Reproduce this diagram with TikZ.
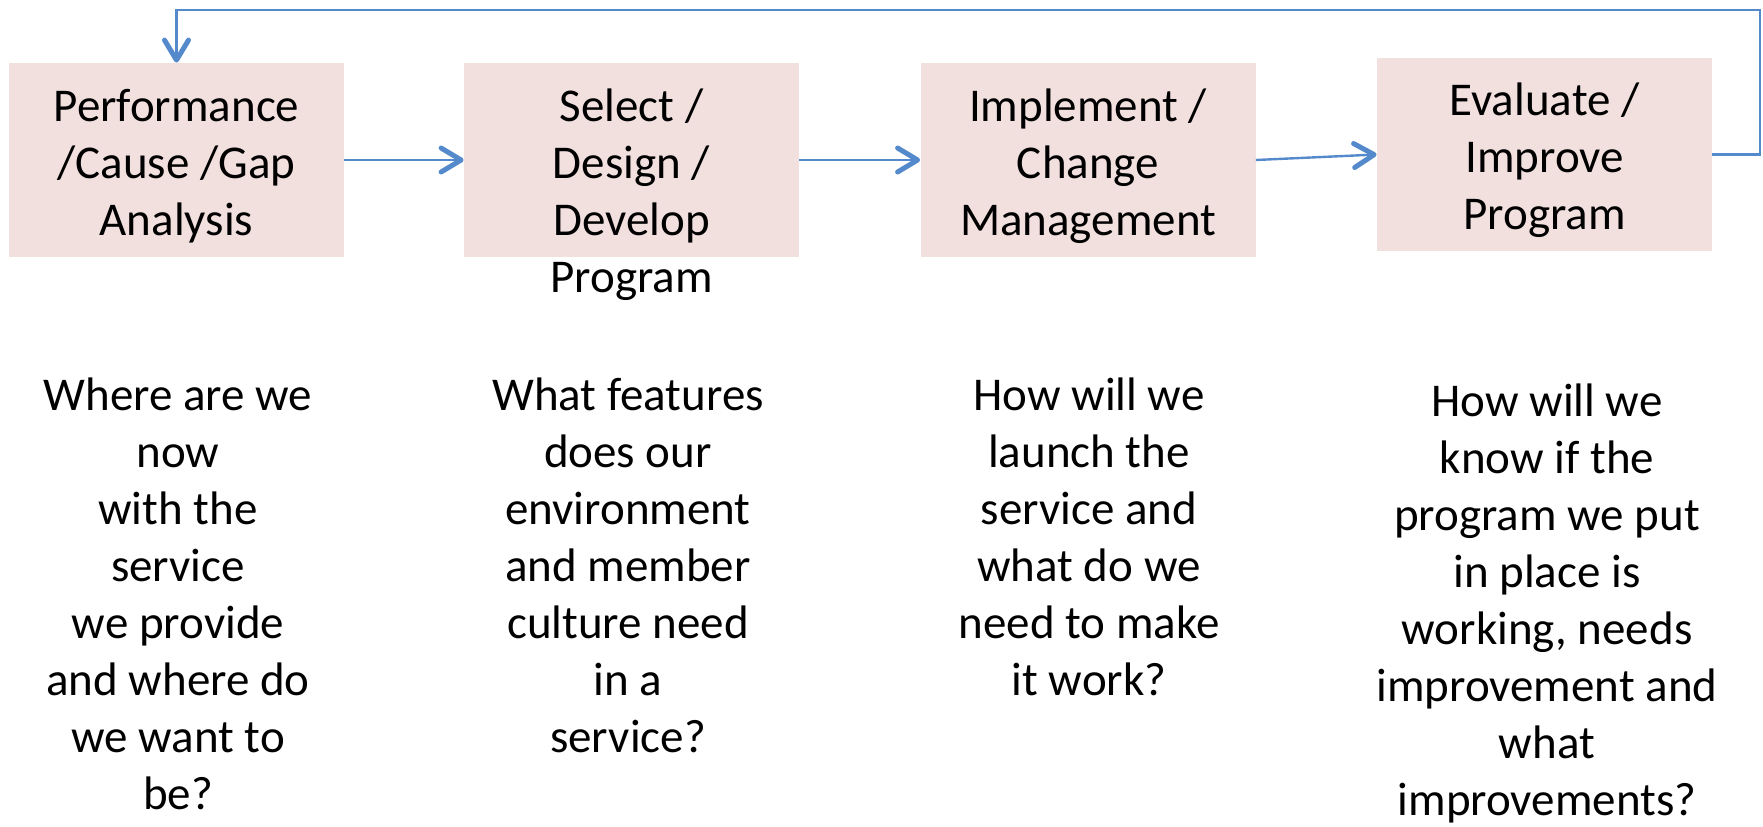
\documentclass[tikz,border=0pt]{standalone}
\usepackage{fontspec}
\setmainfont{Carlito}
\usepackage{xcolor}
\usepackage{tikz}
\usetikzlibrary{arrows.meta,positioning}

\definecolor{stagepink}{HTML}{F2E0DF}
\definecolor{flowblue}{RGB}{84,138,203}

\tikzset{
  stage/.style={fill=stagepink, inner sep=0pt, minimum width=167.5pt, minimum height=97pt},
  stagetext/.style={align=center, inner sep=0pt, font=\fontsize{23.5pt}{28.5pt}\selectfont},
  question/.style={align=center, inner sep=0pt, font=\fontsize{23.5pt}{28.5pt}\selectfont},
  flow/.style={draw=flowblue, line width=1.2pt,
    -{Straight Barb[length=10pt, width=12pt, line width=2.5pt, round]}}
}

\begin{document}
\begin{tikzpicture}[x=0.5pt, y=-0.5pt]
    \useasboundingbox (0,0) rectangle (1763,826);
    % the four stages
    \node[stage] (perf) at (176.5,160) {};
    \node[stage] (select) at (631.5,160) {};
    \node[stage] (impl) at (1088,160) {};
    \node[stage, minimum height=96.5pt] (eval) at (1544.5,154.5) {};
    % stage names (anchored at the baseline of the last line)
    \node[stagetext, anchor=base] (perfT) at (176.5,235) {Performance\\/Cause /Gap\\Analysis};
    \node[stagetext, anchor=base] (selectT) at (631.5,292) {Select /\\Design /\\Develop\\Program};
    \node[stagetext, anchor=base] (implT) at (1088,235) {Implement /\\Change\\Management};
    \node[stagetext, anchor=base] (evalT) at (1544.5,229) {Evaluate /\\Improve\\Program};
    % questions under each stage
    \node[question, anchor=base] (perfQ) at (178,809) {Where are we\\now\\with the\\service\\we provide\\and where do\\we want to\\be?};
    \node[question, anchor=base] (selectQ) at (628,752) {What features\\does our\\environment\\and member\\culture need\\in a\\service?};
    \node[question, anchor=base] (implQ) at (1089,695) {How will we\\launch the\\service and\\what do we\\need to make\\it work?};
    \node[question, anchor=base] (evalQ) at (1547,815) {How will we\\know if the\\program we put\\in place is\\working, needs\\improvement and\\what\\improvements?};
    % arrows
    \coordinate (loopR) at (1760,10);
    \draw[flow] (perf.east) -- (select.west);
    \draw[flow] (select.east) -- (impl.west);
    \draw[flow] (impl.east) -- (eval.west);
    \draw[flow] (eval.east) -| (loopR) -| (perf.north);
\end{tikzpicture}
\end{document}
